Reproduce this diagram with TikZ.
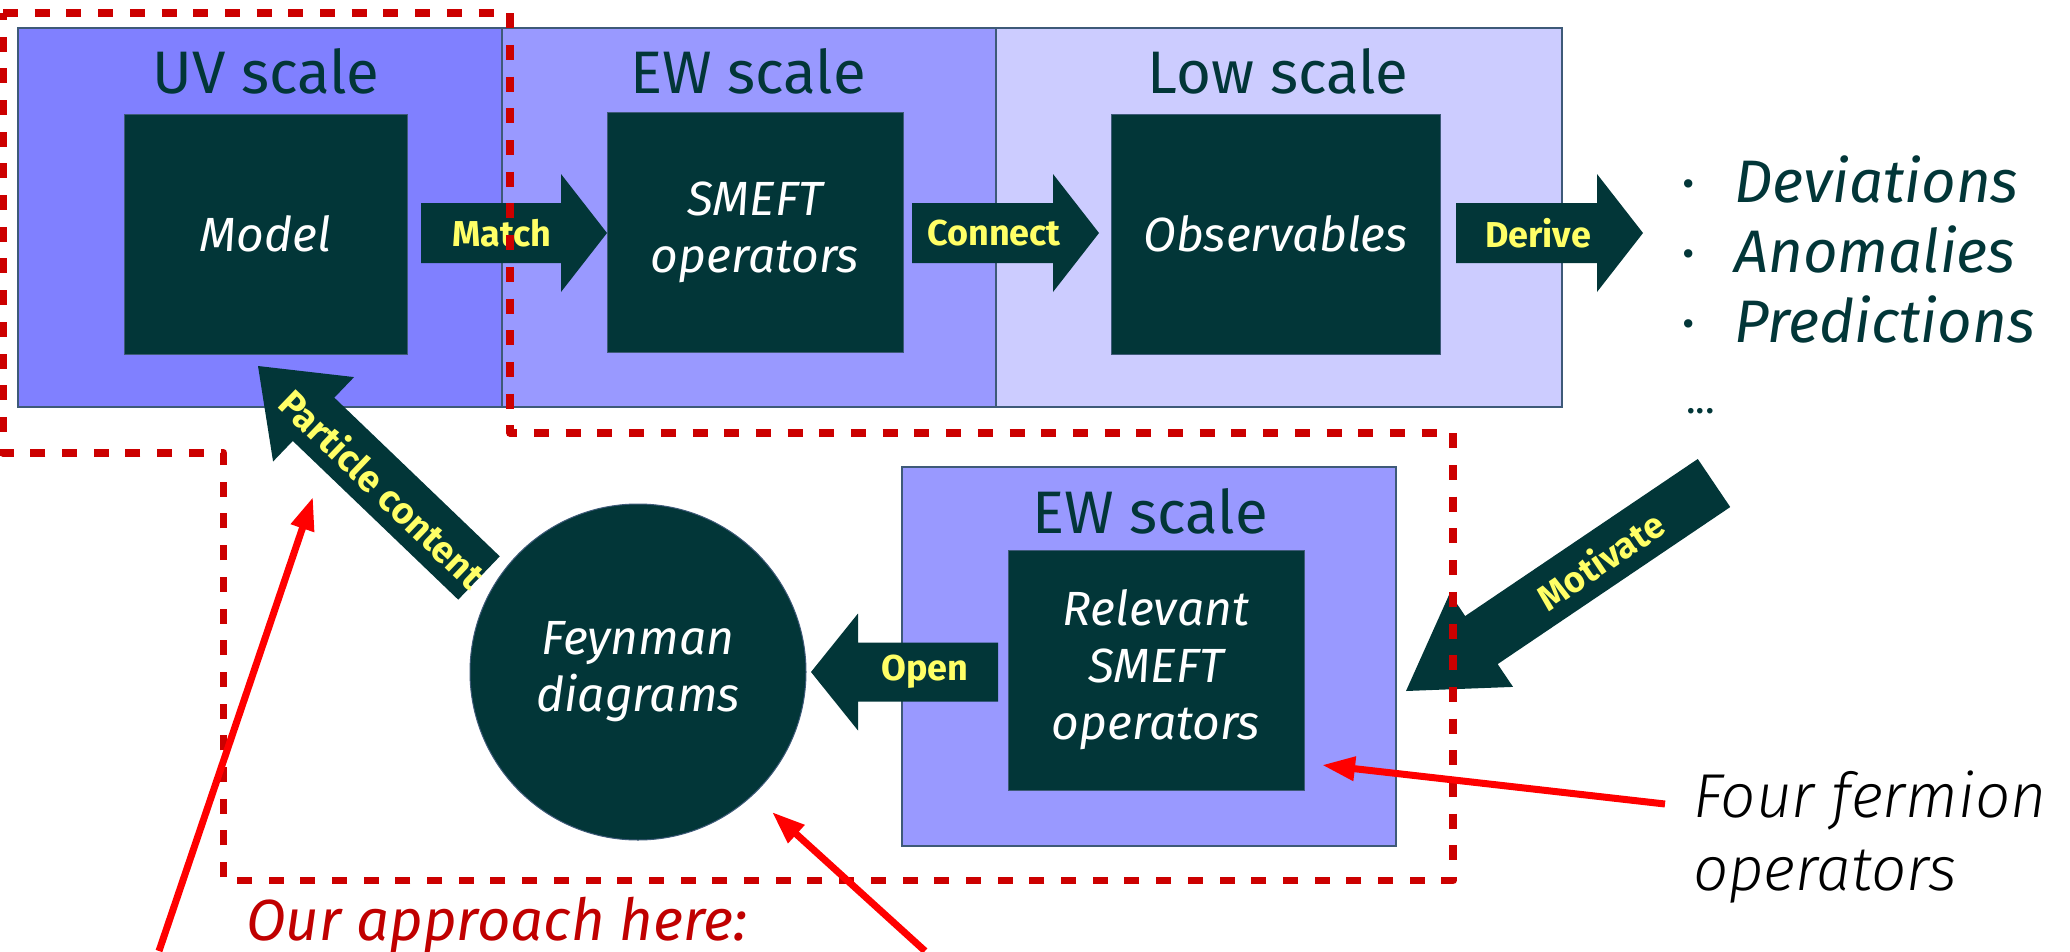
\documentclass[tikz,border=0pt]{standalone}
\usepackage{fontspec}
\setmainfont{Fira Sans}
\newfontfamily\flight{Fira Sans Light}[ItalicFont={Fira Sans Light Italic}]
\usetikzlibrary{calc,arrows.meta}
\definecolor{dkteal}{HTML}{023638}
\definecolor{uvcol}{HTML}{8080FF}
\definecolor{ewcol}{HTML}{9999FF}
\definecolor{lowcol}{HTML}{CCCCFF}
\definecolor{edgecol}{HTML}{3E5A78}
\definecolor{lbl}{HTML}{FFFF66}
\definecolor{dred}{HTML}{CC0000}
\definecolor{bred}{HTML}{FF0000}
\definecolor{ored}{HTML}{C00000}
\newcommand\fsz[2]{\fontsize{#1}{#2}\selectfont}
\newcommand\blockarrow[6]{%
  \coordinate (#1-b) at ($(#3)!#6!(#2)$);
  \fill[arrowfill] ($(#2)!#4!90:(#3)$) -- ($(#1-b)!#4!90:(#3)$) -- ($(#1-b)!#5!90:(#3)$)
    -- (#3) -- ($(#1-b)!#5!-90:(#3)$) -- ($(#1-b)!#4!-90:(#3)$) -- ($(#2)!#4!-90:(#3)$) -- cycle;}
\tikzset{
 region/.style={draw=edgecol, line width=1.2pt, inner sep=0pt},
 core/.style={fill=dkteal, draw=edgecol, line width=1pt, inner sep=0pt, text=white, align=center, font=\fsz{48}{57}\itshape},
 title/.style={text=dkteal, font=\fsz{60}{72}, anchor=base, inner sep=0pt},
 alabel/.style={text=lbl, font=\fsz{36}{43}\bfseries, inner sep=0pt},
 arrowfill/.style={fill=dkteal},
 redframe/.style={draw=dred, line width=7.5pt, line join=round, dash pattern=on 15pt off 16.7pt},
 redarrow/.style={draw=bred, line width=7pt, -{Triangle[length=33pt,width=23pt]}},
 listitem/.style={text=dkteal, font=\fsz{60}{72}\itshape, anchor=base west, inner sep=0pt},
 bullet/.style={text=dkteal, font=\fsz{60}{72}, anchor=base, inner sep=0pt},
}
\begin{document}
\begin{tikzpicture}[x=1pt,y=-1pt]
\useasboundingbox (0,0) rectangle (2070,951);
% scale regions
\node[region, fill=uvcol, minimum width=484pt, minimum height=379pt] (uv) at (260,217.5) {};
\node[region, fill=ewcol, minimum width=494pt, minimum height=379pt] (ew) at (749,217.5) {};
\node[region, fill=lowcol, minimum width=566pt, minimum height=379pt] (low) at (1279,217.5) {};
\node[region, fill=ewcol, minimum width=494pt, minimum height=379pt] (ew2) at (1149,656.5) {};
\node[title] (uvt) at (266,93) {UV scale};
\node[title] (ewt) at (748,93) {EW scale};
\node[title] (lowt) at (1278,93) {Low scale};
\node[title] (ew2t) at (1150,533) {EW scale};
% cores
\node[core, minimum width=283pt, minimum height=240pt] (model) at (265.5,234) {Model};
\node[core, minimum width=296pt, minimum height=240pt] (smeft) at (755,232) {SMEFT\\operators};
\node[core, minimum width=329pt, minimum height=240pt] (obs) at (1275.5,234) {Observables};
\node[core, minimum width=296pt, minimum height=240pt] (rel) at (1156,670) {Relevant\\SMEFT\\operators};
\node[core, circle, minimum size=336pt] (feyn) at (638,672) {Feynman\\diagrams};
% block arrows
\coordinate (mA) at (421,233);
\coordinate (mB) at (607,233);
\blockarrow{match}{mA}{mB}{30pt}{59pt}{46pt}
\node[alabel] (matchl) at (502,233) {Match};
\coordinate (cA) at (912,233);
\coordinate (cB) at (1099,233);
\blockarrow{conn}{cA}{cB}{30pt}{59pt}{46pt}
\node[alabel] (connl) at (994,233) {Connect};
\coordinate (dA) at (1456,233);
\coordinate (dB) at (1643,233);
\blockarrow{der}{dA}{dB}{30pt}{59pt}{46pt}
\node[alabel] (derl) at (1538,233) {Derive};
\coordinate (oA) at (998,672);
\coordinate (oB) at (811,672);
\blockarrow{open}{oA}{oB}{29.5pt}{58.5pt}{47pt}
\node[alabel] (openl) at (925,672) {Open};
\coordinate (pA) at (479,578);
\coordinate (pB) at (258,366);
\blockarrow{part}{pA}{pB}{30pt}{58.5pt}{77pt}
\node[alabel, font=\fsz{37}{44}\bfseries, rotate=-43.8] (partl) at (383,488) {Particle content};
\coordinate (vA) at (1714,483);
\coordinate (vB) at (1406,691);
\blockarrow{mot}{vA}{vB}{29pt}{56.5pt}{91pt}
\node[alabel, rotate=34] (motl) at (1600,560) {Motivate};
% outcome list
\node[bullet] (b1) at (1689,202) {·};
\node[bullet] (b2) at (1689,272) {·};
\node[bullet] (b3) at (1689,342) {·};
\node[listitem] (dev) at (1734,202) {Deviations};
\node[listitem] (ano) at (1734,272) {Anomalies};
\node[listitem] (pre) at (1734,342) {Predictions};
\node[text=dkteal, font=\fsz{40}{48}, anchor=base west, inner sep=0pt] (dots) at (1686,413) {...};
% red dashed frame
\draw[redframe] (3,13) -- (510,13) -- (510,433) -- (1453,433) -- (1453,880.5) -- (223.5,880.5) -- (223.5,453) -- (3,453) -- cycle;
% annotations
\node[text=ored, font=\fsz{58}{70}\itshape, anchor=base west, inner sep=0pt] (ours) at (246,940) {Our approach here:};
\node[font=\flight\itshape\fsz{62}{73}, anchor=base west, inner sep=0pt] (ff1) at (1693,817) {Four fermion};
\node[font=\flight\itshape\fsz{62}{73}, anchor=base west, inner sep=0pt] (ff2) at (1693,890) {operators};
\coordinate (r1s) at (159,951);
\coordinate (r1e) at (313,497);
\coordinate (r2s) at (925,951);
\coordinate (r2e) at (772,812);
\coordinate (r3s) at (1665,804);
\coordinate (r3e) at (1322,765);
\draw[redarrow] (r1s) -- (r1e);
\draw[redarrow] (r2s) -- (r2e);
\draw[redarrow] (r3s) -- (r3e);
\end{tikzpicture}
\end{document}
